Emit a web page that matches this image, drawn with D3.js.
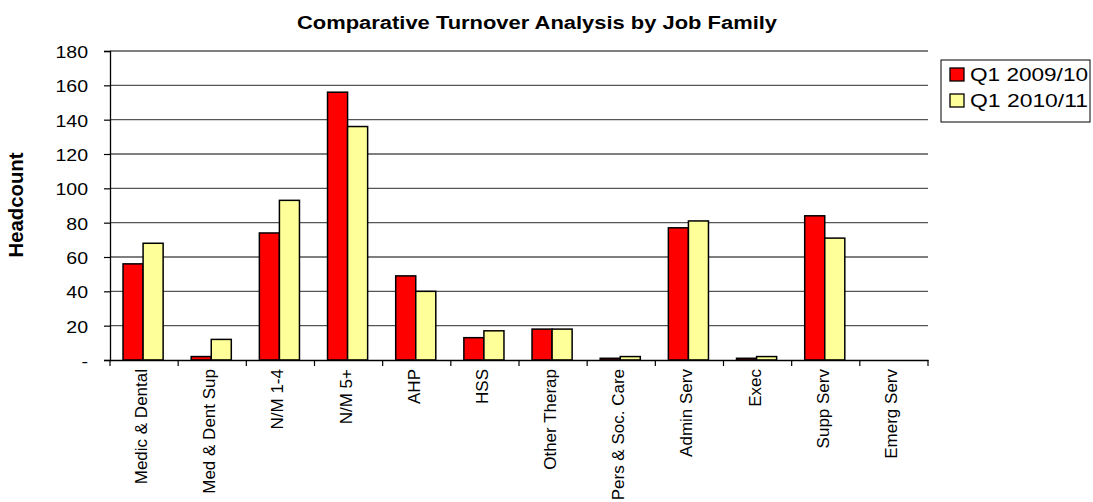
<!DOCTYPE html>
<html lang="en">
    <head>
        <title>Comparative Turnover Analysis by Job Family</title>
        <meta charset="utf-8">
        <script src="https://d3js.org/d3.v7.min.js"></script>
        <style>
            * {
                margin: 0;
                padding: 0;
            }
            body {
                background-color: white;
                width: 1093px;
                height: 502px;
                overflow: hidden;
            }
            text {
                font-family: "Liberation Sans", Arial, sans-serif;
                fill: black;
            }
        </style>
    </head>
    <body>
        <main></main>
        <script>

            const categories = ["Medic & Dental", "Med & Dent Sup", "N/M 1-4", "N/M 5+", "AHP", "HSS",
                "Other Therap", "Pers & Soc. Care", "Admin Serv", "Exec", "Supp Serv", "Emerg Serv"];
            const seriesNames = ["Q1 2009/10", "Q1 2010/11"];
            const q1_2009 = [56, 2, 74, 156, 49, 13, 18, 1, 77, 1, 84, 0];
            const q1_2010 = [68, 12, 93, 136, 40, 17, 18, 2, 81, 2, 71, 0];
            const yTicks = [0, 20, 40, 60, 80, 100, 120, 140, 160, 180];
            const colors = ["#ff0000", "#ffff99"];

            const w = 1093;
            const h = 502;
            const plotLeft = 110, plotRight = 928, plotTop = 51, plotBottom = 360;

            const svg = d3.select("main")
                .append("svg")
                .attr("width", w)
                .attr("height", h);

            const xScale = d3.scaleBand()
                .domain(categories)
                .range([plotLeft, plotRight]);

            // two bars per category, gap on both sides
            const xSub = d3.scaleBand()
                .domain(seriesNames)
                .range([0, xScale.bandwidth()])
                .paddingOuter(0.7);

            const yScale = d3.scaleLinear()
                .domain([0, 180])
                .range([plotBottom, plotTop]);

            // gridlines
            svg.append("g")
                .selectAll("line")
                .data(yTicks.filter(d => d > 0))
                .enter()
                .append("line")
                .attr("x1", plotLeft)
                .attr("x2", plotRight)
                .attr("y1", d => yScale(d))
                .attr("y2", d => yScale(d))
                .attr("stroke", "#555")
                .attr("stroke-width", 1.3);

            const rows = categories.map((c, i) => ({cat: c, values: [q1_2009[i], q1_2010[i]]}));

            svg.append("g")
                .selectAll("g")
                .data(rows)
                .enter()
                .append("g")
                .attr("transform", d => `translate(${xScale(d.cat) - 1}, 0)`)
                .selectAll("rect")
                .data(d => d.values.map((v, i) => ({name: seriesNames[i], value: v, i: i})).filter(b => b.value > 0))
                .enter()
                .append("rect")
                .attr("x", d => xSub(d.name))
                .attr("y", d => yScale(d.value))
                .attr("width", xSub.bandwidth())
                .attr("height", d => plotBottom - yScale(d.value))
                .attr("fill", d => colors[d.i])
                .attr("stroke", "black")
                .attr("stroke-width", 1.5);

            const yAxis = d3.axisLeft(yScale)
                .tickValues(yTicks)
                .tickSize(6)
                .tickPadding(16)
                .tickFormat(d => d === 0 ? "-" : d);

            const yG = svg.append("g")
                .attr("transform", `translate(${plotLeft}, 0)`)
                .call(yAxis);
            yG.select(".domain").attr("stroke", "black").attr("stroke-width", 1.3);
            yG.selectAll(".tick line").attr("stroke", "black").attr("stroke-width", 1.2);
            yG.selectAll(".tick text")
                .attr("font-size", 16)
                .attr("font-family", "Liberation Sans, Arial, sans-serif")
                .attr("dy", "0.4em")
                .each(function () {
                    const len = this.getComputedTextLength();
                    d3.select(this).attr("textLength", len * 1.22).attr("lengthAdjust", "spacingAndGlyphs");
                });

            const xAxis = d3.axisBottom(xScale)
                .tickSize(0)
                .tickFormat("");

            const xG = svg.append("g")
                .attr("transform", `translate(0, ${plotBottom})`)
                .call(xAxis);
            xG.select(".domain").attr("stroke", "black").attr("stroke-width", 1.3);

            // tick marks between categories
            xG.selectAll("line.sep")
                .data(d3.range(categories.length + 1))
                .enter()
                .append("line")
                .attr("class", "sep")
                .attr("x1", i => plotLeft + i * xScale.step())
                .attr("x2", i => plotLeft + i * xScale.step())
                .attr("y1", 0)
                .attr("y2", 6)
                .attr("stroke", "black")
                .attr("stroke-width", 1.2);

            svg.append("g")
                .selectAll("text")
                .data(categories)
                .enter()
                .append("text")
                .attr("transform", d => `translate(${xScale(d) + xScale.bandwidth() / 2 + 3}, ${plotBottom + 9}) rotate(-90)`)
                .attr("text-anchor", "end")
                .attr("font-size", 17)
                .text(d => d);

            svg.append("text")
                .attr("x", 537)
                .attr("y", 29)
                .attr("text-anchor", "middle")
                .attr("font-size", 17.5)
                .attr("font-weight", "bold")
                .attr("textLength", 480)
                .attr("lengthAdjust", "spacingAndGlyphs")
                .text("Comparative Turnover Analysis by Job Family");

            svg.append("text")
                .attr("transform", "translate(23, 205) rotate(-90)")
                .attr("text-anchor", "middle")
                .attr("font-size", 20)
                .attr("font-weight", "bold")
                .attr("textLength", 105)
                .attr("lengthAdjust", "spacingAndGlyphs")
                .text("Headcount");

            // legend
            const legend = svg.append("g")
                .attr("transform", "translate(941, 60)");

            legend.append("rect")
                .attr("width", 149)
                .attr("height", 62)
                .attr("fill", "white")
                .attr("stroke", "black")
                .attr("stroke-width", 1);

            const items = legend.selectAll("g")
                .data(seriesNames)
                .enter()
                .append("g")
                .attr("transform", (d, i) => `translate(9, ${8 + i * 26})`);

            items.append("rect")
                .attr("width", 14)
                .attr("height", 13)
                .attr("fill", (d, i) => colors[i])
                .attr("stroke", "black")
                .attr("stroke-width", 1.3);

            items.append("text")
                .attr("x", 20)
                .attr("y", 13)
                .attr("font-size", 19)
                .attr("textLength", 118)
                .attr("lengthAdjust", "spacingAndGlyphs")
                .text(d => d);

        </script>
    </body>
</html>
